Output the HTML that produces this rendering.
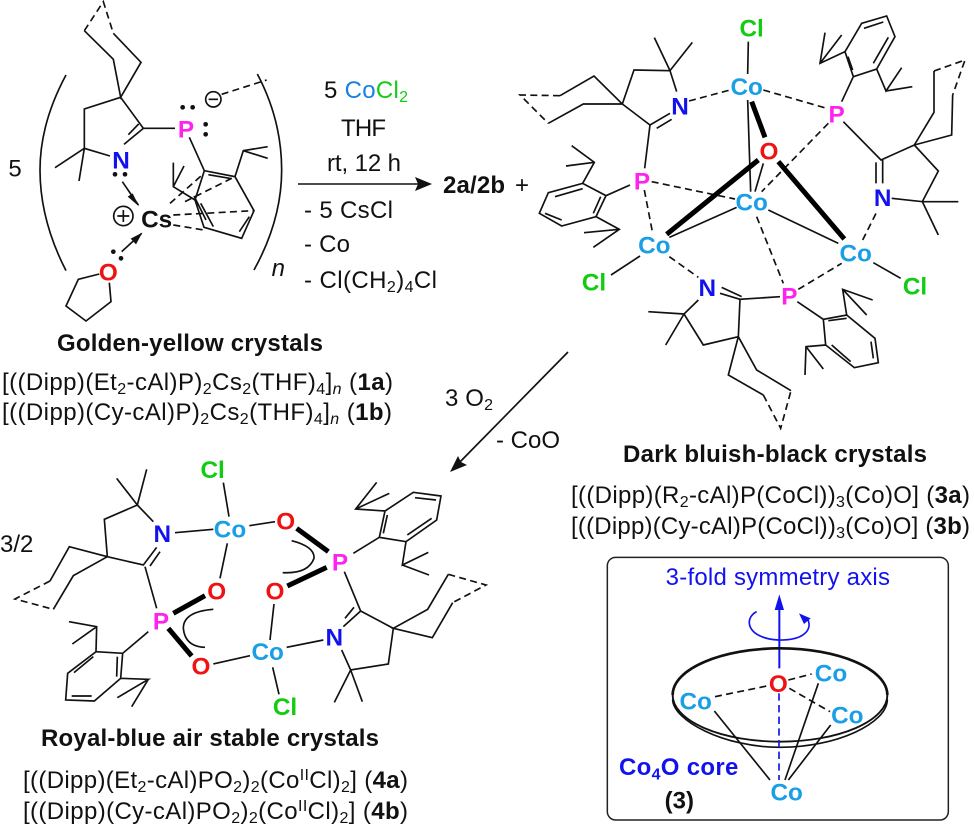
<!DOCTYPE html>
<html><head><meta charset="utf-8"><style>
html,body{margin:0;padding:0;background:#fff;width:974px;height:825px;overflow:hidden}
svg{display:block}
text{font-family:"Liberation Sans",sans-serif;fill:#111}
.b{font-weight:bold}
.s{stroke:#111;stroke-width:5;fill:none;stroke-linejoin:miter;stroke-linecap:butt}
.d{stroke:#111;stroke-width:5;fill:none;stroke-dasharray:21 13}
.t{stroke:#000;stroke-width:15;fill:none}
.a{font-weight:bold;font-size:73px;text-anchor:middle}
.co{fill:#1a9fe6}.cl{fill:#12cc12}.n{fill:#1212ee}.p{fill:#ff22ee}.o{fill:#ee1212}
.l{font-size:24px}
.l2{font-size:24px}
</style></head><body>
<svg width="974" height="825" viewBox="0 0 974 825" xmlns="http://www.w3.org/2000/svg">

<!-- Compound 1 -->
<g transform="scale(.33333)">
<path class="s" d="M198 225Q120 370 120 510Q120 660 198 812M772 222Q845 360 845 510Q845 660 762 810"/>
<path class="s" d="M340 100L423 187L362 292L340 178L253 92M362 292L253 327V445L330 468M362 292L430 385L372 433M416 372L385 404M430 385H525M253 445L165 503M253 445L237 543M568 412L613 512L705 530L762 632L725 715L612 682L585 600L613 512M625 524L695 536M748 650L718 695M602 610L640 680M582 588L618 660M705 530L730 452L803 440M730 452L803 475M585 600L520 560V488M520 560L552 498"/>
<path class="d" d="M253 92L310 5L340 100M665 283L800 240M510 610L612 520M555 605L705 530M520 645L762 632M520 675L612 690"/>
<path class="s" d="M367 545L415 615"/>
<path d="M417 619L383 590L398 580Z" fill="#111"/>
<path class="s" d="M365 755L425 700"/><path d="M427 698L408 733L392 716Z" fill="#111"/>
<path class="s" d="M298 822L235 838L198 918L258 963L333 905L328 848"/>
<circle class="s" cx="640" cy="298" r="23"/><path class="s" d="M626 298H654"/>
<circle class="s" cx="370" cy="648" r="29"/><path class="s" d="M352 648H388M370 630V666"/>
<g fill="#111"><circle cx="548" cy="322" r="7"/><circle cx="578" cy="322" r="7"/><circle cx="617" cy="373" r="7"/><circle cx="617" cy="403" r="7"/><circle cx="345" cy="523" r="7"/><circle cx="375" cy="523" r="7"/><circle cx="340" cy="755" r="7"/><circle cx="363" cy="775" r="7"/></g>
<text class="a p" x="558" y="412">P</text>
<text class="a n" x="363" y="505">N</text>
<text class="a" x="470" y="682" style="fill:#111">Cs</text>
<text class="a o" x="325" y="841">O</text>
<text x="45" y="530" font-size="72" text-anchor="middle">5</text>
<text x="835" y="828" font-size="72" font-style="italic" text-anchor="middle">n</text>
</g>

<!-- Conditions -->
<text class="l" x="324" y="98" textLength="84">5 <tspan style="fill:#1a7fe6">Co</tspan><tspan class="cl">Cl<tspan font-size="16" dy="4">2</tspan></tspan></text>
<text class="l" x="341" y="136" textLength="45">THF</text>
<text class="l" x="327" y="171" textLength="74">rt, 12 h</text>
<path d="M298 184H424" stroke="#111" stroke-width="1.6"/><path d="M432 184L415 177L418 184L415 191Z" fill="#111"/>
<text class="l b" x="443" y="193" textLength="62">2a/2b</text>
<text class="l" x="522" y="193" text-anchor="middle">+</text>
<text class="l" x="304" y="218" textLength="89">- 5 CsCl</text>
<text class="l" x="304" y="252" textLength="46">- Co</text>
<text class="l" x="304" y="288" textLength="133">- Cl(CH<tspan font-size="16" dy="4">2</tspan><tspan dy="-4">)</tspan><tspan font-size="16" dy="4">4</tspan><tspan dy="-4">Cl</tspan></text>

<path d="M568 352L455 467" stroke="#111" stroke-width="1.7"/><path d="M450 472L458 456L461 462L467 465Z" fill="#111"/>
<text class="l" x="445" y="406" textLength="48">3 O<tspan font-size="16" dy="4">2</tspan></text>
<text class="l" x="496" y="448" textLength="64">- CoO</text>

<!-- Compound 3 -->
<g transform="translate(510,0) scale(.33333)">
<path class="s" d="M715 125L713 222M337 312L372 210L480 212L500 275M337 312L420 375L480 340M440 385L485 358M480 212L433 113M480 212L547 127M150 287L252 228L337 312L220 312L115 370M420 375L404 505"/>
<path class="d" d="M150 287L30 285L115 370"/>
<path class="s" d="M360 555L288 587L218 550L115 578L88 640L155 678L258 650L288 587M218 566L135 590M105 640L155 660M250 640L272 590M218 550L253 487L185 437M253 487L168 498M258 650L328 688L250 742M328 688L222 698"/>
<path class="d" d="M537 303L660 270M760 270L950 325M425 545L675 597M403 570L428 700M955 370L755 575M740 650L820 850M478 770L565 832M865 868L995 790M1058 720L1098 640"/>
<path class="s" d="M713 300L722 575M760 490L735 575M478 712L680 622M775 630L985 730M303 825L390 768M1090 788L1172 835"/>
<path class="t" d="M725 305L765 412M470 703L745 480M805 485L1003 717"/>
<path class="s" d="M1000 365L1113 480L1213 435L1285 513L1237 605L1145 595M1098 487V550M1118 480V550M1237 605H1345M1237 605L1285 705M1213 435L1272 337V213M1328 285L1325 405L1213 435"/>
<path class="d" d="M1272 213L1365 180L1328 285"/>
<path class="s" d="M995 305L1030 230L1100 207L1155 110L1130 48L1055 70L1005 155L1030 230M1028 210L1014 170M1090 190L1135 112M1062 85L1120 66M1005 155L930 190L945 98M930 190L995 105M1100 207L1128 273L1175 203M1128 273L1207 260"/>
<path class="s" d="M635 862L695 890M630 880L690 898M810 890L690 898L685 1010L580 1035L522 942L565 900M522 942L415 935M522 942L467 1035M843 1172L740 1110L685 1010L655 1125L760 1185"/>
<path class="d" d="M760 1185L812 1285L843 1172"/>
<path class="s" d="M862 905L940 958L1010 945L1095 1015L1105 1088L1033 1103L947 1035L940 958M955 962L1010 955M1083 1025L1090 1075M1022 1085L965 1035M1010 945L998 868L1088 900M998 868L1070 945M947 1035L888 1040L885 1125M888 1040L940 1107"/>
<text class="a cl" x="725" y="110">Cl</text>
<text class="a co" x="710" y="285">Co</text>
<text class="a n" x="510" y="344">N</text>
<text class="a p" x="980" y="368">P</text>
<text class="a p" x="396" y="568">P</text>
<text class="a o" x="777" y="478">O</text>
<text class="a co" x="725" y="631">Co</text>
<text class="a co" x="433" y="761">Co</text>
<text class="a co" x="1037" y="785">Co</text>
<text class="a cl" x="252" y="871">Cl</text>
<text class="a cl" x="1215" y="884">Cl</text>
<text class="a n" x="592" y="888">N</text>
<text class="a p" x="838" y="914">P</text>
<text class="a n" x="1118" y="618">N</text>
</g>

<!-- Compound 4 -->
<g transform="translate(0,450) scale(.33333)">
<path class="s" d="M670 98L687 200M640 238L525 248M748 227L825 215M682 280L660 385M640 642L750 617M810 570L822 462M860 592L970 570M818 652L837 733"/>
<path class="t" d="M520 490L615 437M505 535L575 618M890 235L985 305M862 408L980 352"/>
<path class="s" d="M640 478Q550 485 550 535Q555 590 615 592M875 272Q945 290 942 325Q925 372 848 368"/>
<path class="s" d="M412 165L350 85M412 165L440 58M412 165L460 215M412 165L313 208L322 320L430 345L470 292M450 348L480 305M435 350L470 475M150 393L208 290L322 320L220 377L160 478"/>
<path class="d" d="M150 393L45 447L160 478"/>
<path class="s" d="M445 545L368 610L288 605L203 670L197 750L283 753L362 685L368 610M352 620L350 680M280 620L222 668M215 738L275 738M288 605L290 530L207 515M290 530L217 582M362 685L445 688L352 743M445 688L395 770"/>
<path class="s" d="M1060 310L1138 262L1218 275L1310 210L1323 138L1240 127L1155 183L1138 262M1150 250L1162 195M1222 255L1295 205M1245 143L1308 150M1155 183L1067 177L1130 97M1067 177L1168 130M1218 275L1207 345L1285 307M1207 345L1287 375"/>
<path class="s" d="M1033 365L1082 483L1030 530M1062 472L1035 505M1082 483L1180 535L1165 642L1052 660L1025 600M1052 660L1003 757M1052 660L1087 755M1345 373L1283 478L1180 535L1297 563L1358 458"/>
<path class="d" d="M1345 373L1458 405L1358 458"/>
<text class="a cl" x="638" y="84">Cl</text>
<text class="a co" x="690" y="263">Co</text>
<text class="a n" x="487" y="276">N</text>
<text class="a o" x="857" y="238">O</text>
<text class="a o" x="650" y="448">O</text>
<text class="a p" x="483" y="539">P</text>
<text class="a o" x="603" y="674">O</text>
<text class="a co" x="803" y="630">Co</text>
<text class="a n" x="1003" y="587">N</text>
<text class="a cl" x="855" y="795">Cl</text>
<text class="a p" x="1020" y="361">P</text>
<text class="a o" x="825" y="449">O</text>
<text x="0" y="306" font-size="72">3/2</text>
</g>

<!-- Box -->
<g transform="translate(600,550) scale(.33333)">
<rect x="22" y="22" width="1023" height="788" rx="25" fill="none" stroke="#222" stroke-width="4.5"/>
<text x="197" y="105" font-size="72" textLength="673" style="fill:#1212ee">3-fold symmetry axis</text>
<path d="M538 355V165" stroke="#1212ee" stroke-width="6"/><path d="M538 133L552 180H524Z" fill="#1212ee"/>
<path d="M470 185C430 205 440 265 535 270C610 272 640 240 622 205" fill="none" stroke="#1212ee" stroke-width="5"/><path d="M632 205L597 190L612 222Z" fill="#1212ee"/>
<path d="M218 448C218 510 370 592 540 592C710 592 862 520 862 448" fill="none" stroke="#111" stroke-width="5"/>
<ellipse cx="540" cy="435" rx="322" ry="140" fill="none" stroke="#111" stroke-width="5.5"/>
<path d="M218 435C218 355 370 295 540 295C710 295 862 355 862 435" fill="none" stroke="#111" stroke-width="8"/>
<path class="d" d="M345 440L505 407M565 390L635 372M568 415L690 485" stroke-dasharray="21 12"/>
<path d="M537 430V690" stroke="#1212ee" stroke-width="5" stroke-dasharray="22 13"/>
<path class="s" d="M343 483L510 690M655 400L555 690M692 525L565 690"/>
<text class="a o" x="535" y="426">O</text>
<text class="a co" x="287" y="478">Co</text>
<text class="a co" x="693" y="394">Co</text>
<text class="a co" x="742" y="521">Co</text>
<text class="a co" x="560" y="751">Co</text>
<text class="b" x="57" y="675" font-size="72" textLength="358" style="fill:#1212ee">Co<tspan font-size="48" dy="14">4</tspan><tspan dy="-14">O core</tspan></text>
<text class="b" x="238" y="775" font-size="72" text-anchor="middle">(3)</text>
</g>

<!-- Labels -->
<text class="l b" x="57" y="351" textLength="266">Golden-yellow crystals</text>
<text class="l2" x="2" y="390" textLength="391">[((Dipp)(Et<tspan font-size="16" dy="4">2</tspan><tspan dy="-4">-cAl)P)</tspan><tspan font-size="16" dy="4">2</tspan><tspan dy="-4">Cs</tspan><tspan font-size="16" dy="4">2</tspan><tspan dy="-4">(THF)</tspan><tspan font-size="16" dy="4">4</tspan><tspan dy="-4">]</tspan><tspan font-size="16" dy="4" font-style="italic">n</tspan><tspan dy="-4"> (</tspan><tspan class="b">1a</tspan>)</text>
<text class="l2" x="2" y="420" textLength="390">[((Dipp)(Cy-cAl)P)<tspan font-size="16" dy="4">2</tspan><tspan dy="-4">Cs</tspan><tspan font-size="16" dy="4">2</tspan><tspan dy="-4">(THF)</tspan><tspan font-size="16" dy="4">4</tspan><tspan dy="-4">]</tspan><tspan font-size="16" dy="4" font-style="italic">n</tspan><tspan dy="-4"> (</tspan><tspan class="b">1b</tspan>)</text>
<text class="l b" x="623" y="462" textLength="304">Dark bluish-black crystals</text>
<text class="l2" x="571" y="503" textLength="399">[((Dipp)(R<tspan font-size="16" dy="4">2</tspan><tspan dy="-4">-cAl)P(CoCl))</tspan><tspan font-size="16" dy="4">3</tspan><tspan dy="-4">(Co)O] (</tspan><tspan class="b">3a</tspan>)</text>
<text class="l2" x="571" y="534" textLength="399">[((Dipp)(Cy-cAl)P(CoCl))<tspan font-size="16" dy="4">3</tspan><tspan dy="-4">(Co)O] (</tspan><tspan class="b">3b</tspan>)</text>
<text class="l b" x="41" y="746" textLength="338">Royal-blue air stable crystals</text>
<text class="l2" x="23" y="788" textLength="385">[((Dipp)(Et<tspan font-size="16" dy="4">2</tspan><tspan dy="-4">-cAl)PO</tspan><tspan font-size="16" dy="4">2</tspan><tspan dy="-4">)</tspan><tspan font-size="16" dy="4">2</tspan><tspan dy="-4">(Co</tspan><tspan font-size="16" dy="-8">II</tspan><tspan dy="8">Cl)</tspan><tspan font-size="16" dy="4">2</tspan><tspan dy="-4">] (</tspan><tspan class="b">4a</tspan>)</text>
<text class="l2" x="23" y="819" textLength="385">[((Dipp)(Cy-cAl)PO<tspan font-size="16" dy="4">2</tspan><tspan dy="-4">)</tspan><tspan font-size="16" dy="4">2</tspan><tspan dy="-4">(Co</tspan><tspan font-size="16" dy="-8">II</tspan><tspan dy="8">Cl)</tspan><tspan font-size="16" dy="4">2</tspan><tspan dy="-4">] (</tspan><tspan class="b">4b</tspan>)</text>
</svg>
</body></html>
